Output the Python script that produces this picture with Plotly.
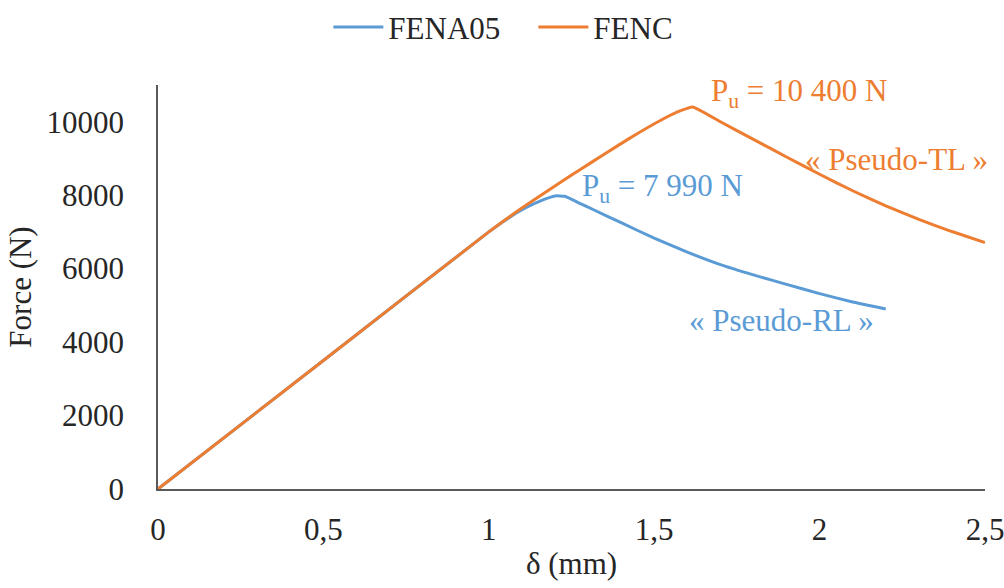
import plotly.graph_objects as go

# FENA05 (blue) curve
fena05_x = [0, 0.5, 1.0, 1.06, 1.11, 1.16, 1.2, 1.23, 1.27, 1.32, 1.4, 1.5, 1.6, 1.7, 1.8, 1.9, 2.0, 2.1, 2.2]
fena05_y = [0, 3500, 7000, 7380, 7650, 7860, 7980, 7970, 7800, 7590, 7250, 6830, 6450, 6110, 5830, 5570, 5320, 5090, 4900]

# FENC (orange) curve
fenc_x = [0, 0.5, 1.0, 1.1, 1.2, 1.273, 1.35, 1.424, 1.524, 1.58, 1.616, 1.7, 1.8, 1.9, 2.0, 2.1, 2.2, 2.3, 2.4, 2.5]
fenc_y = [0, 3500, 7000, 7650, 8250, 8680, 9120, 9540, 10060, 10300, 10400, 10000, 9520, 9040, 8570, 8120, 7710, 7340, 7010, 6710]

x_tickvals = [0, 0.5, 1, 1.5, 2, 2.5]
x_ticktext = ["0", "0,5", "1", "1,5", "2", "2,5"]
y_tickvals = [0, 2000, 4000, 6000, 8000, 10000]
y_ticktext = ["0", "2000", "4000", "6000", "8000", "10000"]

BLUE = "#5B9BD5"
ORANGE = "#ED7D31"
FONT = "Liberation Serif"
FS = 31
Y_MAX = 11000

fig = go.Figure()
fig.add_trace(go.Scatter(x=fena05_x, y=fena05_y, mode="lines", name="FENA05",
                         line=dict(color=BLUE, width=3, shape="spline", smoothing=0.4)))
fig.add_trace(go.Scatter(x=fenc_x, y=fenc_y, mode="lines", name="FENC",
                         line=dict(color=ORANGE, width=3, shape="spline", smoothing=0.4)))

annots = [
    dict(x=1.667, y=10790, text="P<sub>u</sub> = 10 400 N", color=ORANGE),
    dict(x=1.95, y=8960, text="« Pseudo-TL »", color=ORANGE),
    dict(x=1.276, y=8200, text="P<sub>u</sub> = 7 990 N", color=BLUE),
    dict(x=1.6, y=4590, text="« Pseudo-RL »", color=BLUE),
]
for a in annots:
    fig.add_annotation(x=a["x"], y=a["y"] / Y_MAX, yref="paper", text=a["text"], showarrow=False,
                       xanchor="left", yanchor="middle",
                       font=dict(family=FONT, size=FS, color=a["color"]))

fig.update_layout(
    width=1004, height=588, autosize=False,
    margin=dict(l=158, r=19, t=85, b=99, autoexpand=False),
    paper_bgcolor="white", plot_bgcolor="white",
    font=dict(family=FONT, size=FS, color="#262626"),
    showlegend=True,
    legend=dict(orientation="h", x=0.206, xanchor="left", y=1.143, yanchor="middle",
                itemwidth=50, entrywidth=140, entrywidthmode="pixels",
                font=dict(family=FONT, size=FS, color="#262626")),
    xaxis=dict(range=[0, 2.5], tickvals=x_tickvals, ticktext=x_ticktext, automargin=False,
               showgrid=False, zeroline=False, showline=True, linecolor="#595959", linewidth=1.5,
               ticks="", ticklabelstandoff=12, ticklabeloverflow="allow",
               title=dict(text="δ (mm)", standoff=6, font=dict(family=FONT, size=FS, color="#262626"))),
    yaxis=dict(range=[0, Y_MAX], tickvals=y_tickvals, ticktext=y_ticktext, automargin=False,
               showgrid=False, zeroline=False, showline=True, linecolor="#595959", linewidth=1.5,
               ticks="", ticklabelstandoff=26,
               title=dict(text="Force (N)", standoff=6, font=dict(family=FONT, size=FS, color="#262626"))),
)

fig.write_html("out.html", config={"displayModeBar": False},
               post_script="document.body.style.margin='0';document.body.style.overflow='hidden';")
